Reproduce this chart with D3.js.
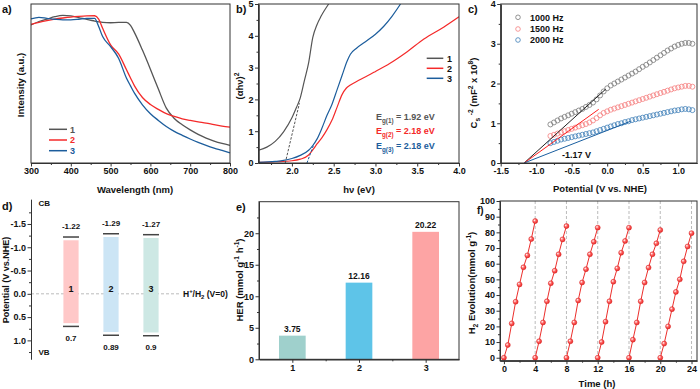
<!DOCTYPE html>
<html>
<head>
<meta charset="utf-8">
<script src="https://cdn.jsdelivr.net/npm/d3@7"></script>
<style>
body { margin: 0; background: #fff; }
svg { font-family: "Liberation Sans", Arial, sans-serif; font-weight: bold; }
.ax text { font-size: 9px; font-weight: bold; fill: #111; font-family: "Liberation Sans", Arial, sans-serif; }
.ax .domain, .ax line { stroke: #333; }
</style>
</head>
<body>
<svg id="fig" width="700" height="389"></svg>
<script>
// ---- a) UV-vis spectra
const aWl = [300,320,340,360,380,400,420,440,460,470,480,500,520,540,550,560,580,600,620,640,660,680,700,720,740,760,780,800];
const aS1 = [86.8,89,90.5,92,92.8,92.5,91.5,90.3,89.3,88.8,88.4,88.2,88.4,88.4,86.5,82,71,59,46.5,34.5,28,24,20.8,18,15.7,13.8,12.3,11.1];
const aS2 = [87.2,88.5,89.6,90.5,91.2,91.8,92.2,92.5,92.6,90.5,84.7,74.3,68.6,58.6,53.5,48.5,41.2,36.8,33.7,31,29.3,27.8,26.8,25.9,25.1,24.1,23.2,22.6];
const aS3 = [90.6,91.6,91,90.4,90,90,90.4,91,91,85.8,79.5,73.2,65.9,53.3,48.5,43.9,36.6,31,26.8,23,19.9,17.4,15.1,13,11.1,9.4,7.9,6.4];

// ---- b) Tauc plots
const bHv1 = [1.6,1.7,1.8,1.9,2.0,2.05,2.1,2.15,2.2,2.25,2.3,2.35,2.44];
const bY1  = [0.40,0.5,0.68,0.98,1.42,1.72,2.05,2.6,3.15,3.95,4.35,4.62,5.0];
const bHv2 = [1.6,1.8,2.0,2.1,2.2,2.26,2.3,2.36,2.42,2.48,2.54,2.6,2.65,2.7,2.8,2.91,3.0,3.17,3.38,3.58,3.82,4.0];
const bY2  = [0.02,0.04,0.07,0.12,0.25,0.45,0.6,0.8,1.05,1.35,1.75,2.15,2.35,2.45,2.6,2.75,2.88,3.13,3.5,3.9,4.28,4.6];
const bHv3 = [1.6,1.8,1.9,2.0,2.1,2.2,2.25,2.3,2.36,2.42,2.48,2.54,2.6,2.66,2.7,2.77,2.9,3.0,3.1,3.2,3.3];
const bY3  = [0.02,0.05,0.08,0.14,0.24,0.4,0.55,0.75,1.1,1.5,1.85,2.3,2.75,3.2,3.42,3.6,3.85,4.05,4.3,4.62,5.0];
const bEg = ['1.92', '2.18', '2.18'];
const bTangent1 = [[1.92, 0], [2.09, 1.88]];
const bTangent3 = [[2.18, 0], [2.26, 0.57]];

// ---- c) Mott-Schottky
const cV = [-0.8,-0.75,-0.7,-0.65,-0.6,-0.55,-0.5,-0.45,-0.4,-0.35,-0.3,-0.25,-0.2,-0.15,-0.1,-0.05,0,0.05,0.1,0.15,0.2,0.25,0.3,0.35,0.4,0.45,0.5,0.55,0.6,0.65,0.7,0.75,0.8,0.85,0.9,0.95,1.0,1.05,1.1,1.15,1.2];
const c1000 = [0.97,1.02,1.07,1.12,1.16,1.2,1.24,1.28,1.32,1.36,1.41,1.46,1.52,1.6,1.7,1.8,1.88,1.95,2.0,2.05,2.1,2.15,2.2,2.25,2.3,2.36,2.42,2.47,2.53,2.59,2.65,2.71,2.77,2.83,2.88,2.93,2.97,3.0,3.02,3.02,3.0];
const c1500 = [0.68,0.71,0.74,0.77,0.8,0.83,0.86,0.89,0.92,0.95,0.98,1.02,1.07,1.13,1.2,1.26,1.3,1.34,1.37,1.4,1.43,1.46,1.49,1.52,1.55,1.58,1.61,1.64,1.67,1.7,1.73,1.76,1.79,1.82,1.85,1.88,1.9,1.92,1.94,1.94,1.92];
const c2000 = [0.5,0.53,0.56,0.59,0.61,0.63,0.65,0.67,0.69,0.71,0.73,0.75,0.77,0.8,0.83,0.86,0.89,0.92,0.95,0.98,1.0,1.03,1.05,1.08,1.1,1.12,1.14,1.16,1.18,1.2,1.22,1.24,1.26,1.28,1.3,1.32,1.33,1.35,1.36,1.35,1.33];
const cFreq = ['1000 Hz', '1500 Hz', '2000 Hz'];
const cFb = -1.17;
const cFitEnd = [[-0.02, 1.86], [-0.12, 1.35], [0.33, 1.05]];

// ---- d) band positions
const dCats = ['1', '2', '3'];
const dCB = [-1.22, -1.29, -1.27];
const dVB = [0.7, 0.89, 0.9];

// ---- e) HER
const eCats = ['1', '2', '3'];
const eHER = [3.75, 12.16, 20.22];

// ---- f) cycling
const fHours = [0, 0.5, 1, 1.5, 2, 2.5, 3, 3.5, 4];
const fCycles = [
  [0, 8.1, 21.9, 35.7, 46.8, 57.7, 65.3, 75.7, 87.2],
  [0, 10.5, 22.5, 36, 47.5, 55.5, 66, 75.5, 84],
  [0, 10.5, 22.5, 36.5, 48, 56.5, 66, 74, 83],
  [0, 10, 23, 36, 48.5, 57, 67, 74.5, 83],
  [0, 11.5, 22.5, 36, 48, 57.5, 66, 73, 81.5],
  [0, 9, 20, 31, 42, 50, 61.5, 71, 79.5]
];

const svg = d3.select('#fig');
const grey = '#555', red = '#f42a2a', blue = '#1c5d9c';

function box(x0, x1, y0, y1) {
  svg.append('rect').attr('x', x0).attr('y', y0).attr('width', x1 - x0).attr('height', y1 - y0)
    .attr('fill', 'none').attr('stroke', '#333').attr('stroke-width', 1);
}
function xAxis(scale, yPos, ticks, minor, fmt) {
  svg.append('g').attr('class', 'ax').attr('transform', `translate(0,${yPos})`)
    .call(d3.axisBottom(scale).tickValues(minor).tickSize(2).tickSizeOuter(0).tickFormat(''));
  svg.append('g').attr('class', 'ax').attr('transform', `translate(0,${yPos})`)
    .call(d3.axisBottom(scale).tickValues(ticks).tickSize(3.5).tickSizeOuter(0).tickPadding(1.5).tickFormat(fmt));
}
function yAxis(scale, xPos, ticks, minor, fmt) {
  svg.append('g').attr('class', 'ax').attr('transform', `translate(${xPos},0)`)
    .call(d3.axisLeft(scale).tickValues(minor).tickSize(2).tickSizeOuter(0).tickFormat(''));
  svg.append('g').attr('class', 'ax').attr('transform', `translate(${xPos},0)`)
    .call(d3.axisLeft(scale).tickValues(ticks).tickSize(3.5).tickSizeOuter(0).tickPadding(1.5).tickFormat(fmt));
}
function txt(x, y, s, size, opts = {}) {
  const t = svg.append('text').attr('x', x).attr('y', y).attr('font-size', size)
    .attr('text-anchor', opts.anchor || 'start').attr('fill', opts.color || '#111');
  if (opts.rot) t.attr('transform', `rotate(-90,${x},${y})`);
  if (Array.isArray(s)) rich(t, s, size); else t.text(s);
  return t;
}
// parts: [text, 'sup' | 'sub' | undefined]
function rich(t, parts, fs) {
  let shift = 0;
  parts.forEach(([s, k]) => {
    const target = k === 'sup' ? -fs * 0.4 : k === 'sub' ? fs * 0.3 : 0;
    t.append('tspan').attr('dy', target - shift).attr('font-size', k ? fs * 0.7 : fs).text(s);
    shift = target;
  });
}
function clip(id, x0, x1, y0, y1) {
  svg.append('clipPath').attr('id', id).append('rect')
    .attr('x', x0).attr('y', y0).attr('width', x1 - x0).attr('height', y1 - y0);
  return `url(#${id})`;
}
const f1 = d => d.toFixed(1);

// ================= a)
{
  const x = d3.scaleLinear().domain([300, 800]).range([31, 230]);
  const y = d3.scaleLinear().domain([0, 100]).range([163, 4]);
  const line = d3.line().x((d, i) => x(aWl[i])).y(d => y(d)).curve(d3.curveMonotoneX);
  [[aS1, grey], [aS2, red], [aS3, blue]].forEach(([s, c]) => {
    svg.append('path').attr('d', line(s)).attr('fill', 'none').attr('stroke', c).attr('stroke-width', 1.3);
  });
  xAxis(x, 163, [300, 400, 500, 600, 700, 800], [350, 450, 550, 650, 750], d => d);
  box(31, 230, 4, 163);
  [[grey, '1', 129.3], [red, '2', 140], [blue, '3', 150.7]].forEach(([c, l, yy]) => {
    svg.append('line').attr('x1', 49).attr('x2', 67).attr('y1', yy).attr('y2', yy).attr('stroke', c).attr('stroke-width', 1.5);
    txt(70, yy + 3.2, l, 9, { color: c });
  });
  txt(135, 193, 'Wavelength (nm)', 9.5, { anchor: 'middle' });
  txt(24, 85, 'Intensity (a.u.)', 9.5, { anchor: 'middle', rot: true });
  txt(2, 13, 'a)', 11);
}

// ================= b)
{
  const x = d3.scaleLinear().domain([1.6, 4.0]).range([258.5, 459]);
  const y = d3.scaleLinear().domain([0, 5]).range([163, 4]);
  const cp = clip('cb', 258.5, 459, 4, 163);
  const line = hv => d3.line().x((d, i) => x(hv[i])).y(d => y(d)).curve(d3.curveMonotoneX);
  [[bHv1, bY1, grey], [bHv2, bY2, red], [bHv3, bY3, blue]].forEach(([hv, s, c]) => {
    svg.append('path').attr('d', line(hv)(s)).attr('fill', 'none').attr('stroke', c).attr('stroke-width', 1.2).attr('clip-path', cp);
  });
  [[bTangent1, grey], [bTangent3, blue]].forEach(([pts, c]) => {
    svg.append('line').attr('x1', x(pts[0][0])).attr('y1', y(pts[0][1])).attr('x2', x(pts[1][0])).attr('y2', y(pts[1][1]))
      .attr('stroke', c).attr('stroke-width', 1).attr('stroke-dasharray', '2.5,1.5');
  });
  xAxis(x, 163, [2.0, 2.5, 3.0, 3.5, 4.0], [1.75, 2.25, 2.75, 3.25, 3.75], f1);
  yAxis(y, 258.5, [0, 1, 2, 3, 4, 5], [0.5, 1.5, 2.5, 3.5, 4.5], d => d);
  box(258.5, 459, 4, 163);
  [[grey, '1', 58.3], [red, '2', 68.3], [blue, '3', 78.3]].forEach(([c, l, yy]) => {
    svg.append('line').attr('x1', 426.7).attr('x2', 443.3).attr('y1', yy).attr('y2', yy).attr('stroke', c).attr('stroke-width', 1.5);
    txt(447, yy + 3.2, l, 9);
  });
  [[grey, 117], [red, 130.7], [blue, 145.7]].forEach(([c, yy], i) => {
    txt(376, yy + 3.2, [['E'], [`g(${i + 1})`, 'sub'], [` = ${bEg[i]} eV`]], 9, { color: c });
  });
  txt(359, 193, 'hν (eV)', 9.5, { anchor: 'middle' });
  txt(243, 86, [['(αhν)'], ['2', 'sup']], 9.5, { anchor: 'middle', rot: true });
  txt(236, 13, 'b)', 11);
}

// ================= c)
{
  const x = d3.scaleLinear().domain([-1.5, 1.265]).range([500.7, 697]);
  const y = d3.scaleLinear().domain([0, 4]).range([163, 4]);
  const cols = ['#7a7a7a', '#f57f7f', '#3f7fb8'];
  const lineCols = ['#222', '#ff2020', '#1a5fa0'];
  [c1000, c1500, c2000].forEach((s, k) => {
    svg.append('g').selectAll('circle').data(s).enter().append('circle')
      .attr('cx', (d, i) => x(cV[i])).attr('cy', d => y(d)).attr('r', 2.5)
      .attr('fill', 'none').attr('stroke', cols[k]).attr('stroke-width', 0.8);
  });
  cFitEnd.forEach((p, k) => {
    svg.append('line').attr('x1', x(cFb)).attr('y1', y(0)).attr('x2', x(p[0])).attr('y2', y(p[1]))
      .attr('stroke', lineCols[k]).attr('stroke-width', 1);
  });
  xAxis(x, 163, [-1.5, -1.0, -0.5, 0, 0.5, 1.0], [-1.25, -0.75, -0.25, 0.25, 0.75], f1);
  yAxis(y, 500.7, [0, 1, 2, 3, 4], [0.5, 1.5, 2.5, 3.5], d => d);
  box(500.7, 697, 4, 163);
  [17.3, 29, 40].forEach((yy, k) => {
    svg.append('circle').attr('cx', 518).attr('cy', yy).attr('r', 2.3).attr('fill', 'none').attr('stroke', cols[k]).attr('stroke-width', 0.8);
    txt(530, yy + 3.2, cFreq[k], 9);
  });
  txt(562, 157.5, '-1.17 V', 9);
  txt(600, 192, 'Potential (V vs. NHE)', 9.5, { anchor: 'middle' });
  txt(477, 93, [['C'], ['s', 'sub'], [' '], ['-2', 'sup'], ['  (mF'], ['2', 'sup'], [' x 10'], ['8', 'sup'], [')']], 9.5, { anchor: 'middle', rot: true });
  txt(468, 13, 'c)', 11);
}

// ================= d)
{
  const x = d3.scaleLinear().domain([0, 5]).range([31, 231]);
  const y = d3.scaleLinear().domain([-2.03, 1.4]).range([199.3, 359]);
  const fills = ['#ffc8c8', '#cce5f5', '#cde8e4'];
  svg.append('line').attr('x1', 31).attr('x2', x(3.73)).attr('y1', y(0)).attr('y2', y(0))
    .attr('stroke', '#bbb').attr('stroke-width', 1).attr('stroke-dasharray', '3,2');
  dCats.forEach((c, i) => {
    const cx = x(i + 1);
    svg.append('rect').attr('x', x(i + 1 - 0.19)).attr('width', x(0.38) - x(0))
      .attr('y', y(dCB[i] + 0.07)).attr('height', y(dVB[i] - 0.07) - y(dCB[i] + 0.07)).attr('fill', fills[i]);
    [dCB[i], dVB[i]].forEach(v => {
      svg.append('line').attr('x1', x(i + 1 - 0.2)).attr('x2', x(i + 1 + 0.2)).attr('y1', y(v)).attr('y2', y(v))
        .attr('stroke', '#444').attr('stroke-width', 1.5);
    });
    txt(cx, y(dCB[i]) - 8, String(dCB[i]), 8, { anchor: 'middle' });
    txt(cx, y(dVB[i]) + 14.5, String(dVB[i]), 8, { anchor: 'middle' });
    txt(cx, y(0) - 1.5, c, 9, { anchor: 'middle' });
  });
  yAxis(y, 31, [-1.5, -1.0, -0.5, 0, 0.5, 1.0], [-1.75, -1.25, -0.75, -0.25, 0.25, 0.75, 1.25], f1);
  txt(183, y(0) + 3, [['H'], ['+', 'sup'], ['/H'], ['2', 'sub'], [' (V=0)']], 8.5);
  txt(38.5, 205.5, 'CB', 8);
  txt(38.5, 355, 'VB', 8);
  txt(9, 280, 'Potential (V vs.NHE)', 9, { anchor: 'middle', rot: true });
  txt(2, 210, 'd)', 11);
}

// ================= e)
{
  const x = d3.scaleLinear().domain([0.5, 3.5]).range([259, 459]);
  const y = d3.scaleLinear().domain([0, 25]).range([359.3, 201.7]);
  const fills = ['#9fd0cc', '#5ec4e8', '#fda4a4'];
  eHER.forEach((v, i) => {
    svg.append('rect').attr('x', x(i + 1 - 0.2)).attr('width', x(0.9) - x(0.5))
      .attr('y', y(v)).attr('height', y(0) - y(v)).attr('fill', fills[i]);
    txt(x(i + 1), y(v) - 4, v.toFixed(2), 8.5, { anchor: 'middle' });
  });
  xAxis(x, 359.3, [1, 2, 3], [1.5, 2.5], (d, i) => eCats[i]);
  yAxis(y, 259, [0, 5, 10, 15, 20], [2.5, 7.5, 12.5, 17.5, 22.5], d => d);
  box(259, 459, 201.7, 359.3);
  txt(243, 280, [['HER (mmol g'], ['-1', 'sup'], [' h'], ['-1', 'sup'], [')']], 9.5, { anchor: 'middle', rot: true });
  txt(236, 211, 'e)', 11);
}

// ================= f)
{
  const x = d3.scaleLinear().domain([-0.5, 24.7]).range([500, 697]);
  const y = d3.scaleLinear().domain([-1.9, 100]).range([360.7, 201]);
  const fred = '#ec2f2c';
  const grad = svg.append('defs').append('radialGradient').attr('id', 'ball').attr('cx', '35%').attr('cy', '35%').attr('r', '65%');
  grad.append('stop').attr('offset', '0%').attr('stop-color', '#fff');
  grad.append('stop').attr('offset', '45%').attr('stop-color', '#f66');
  grad.append('stop').attr('offset', '100%').attr('stop-color', fred);
  [4, 8, 12, 16, 20, 24].forEach(t => {
    svg.append('line').attr('x1', x(t)).attr('x2', x(t)).attr('y1', 201).attr('y2', 360.7)
      .attr('stroke', '#aaa').attr('stroke-width', 0.8).attr('stroke-dasharray', '3,2');
  });
  fCycles.forEach((cyc, k) => {
    const t0 = k * 4;
    svg.append('path').attr('d', d3.line().x((d, i) => x(t0 + fHours[i])).y(d => y(d))(cyc))
      .attr('fill', 'none').attr('stroke', fred).attr('stroke-width', 1);
    svg.append('g').selectAll('circle').data(cyc).enter().append('circle')
      .attr('cx', (d, i) => x(t0 + fHours[i])).attr('cy', d => y(d)).attr('r', 2.5)
      .attr('fill', 'url(#ball)').attr('stroke', '#d42020').attr('stroke-width', 0.5);
  });
  xAxis(x, 360.7, [0, 4, 8, 12, 16, 20, 24], [2, 6, 10, 14, 18, 22], d => d);
  yAxis(y, 500, [0, 10, 20, 30, 40, 50, 60, 70, 80, 90, 100], [5, 15, 25, 35, 45, 55, 65, 75, 85, 95], d => d);
  box(500, 697, 201, 360.7);
  txt(597, 386.5, 'Time (h)', 9.5, { anchor: 'middle' });
  txt(475, 283, [['H'], ['2', 'sub'], [' Evolution(mmol g'], ['-1', 'sup'], [')']], 9.5, { anchor: 'middle', rot: true });
  txt(477, 214, 'f)', 10);
}
</script>
</body>
</html>
